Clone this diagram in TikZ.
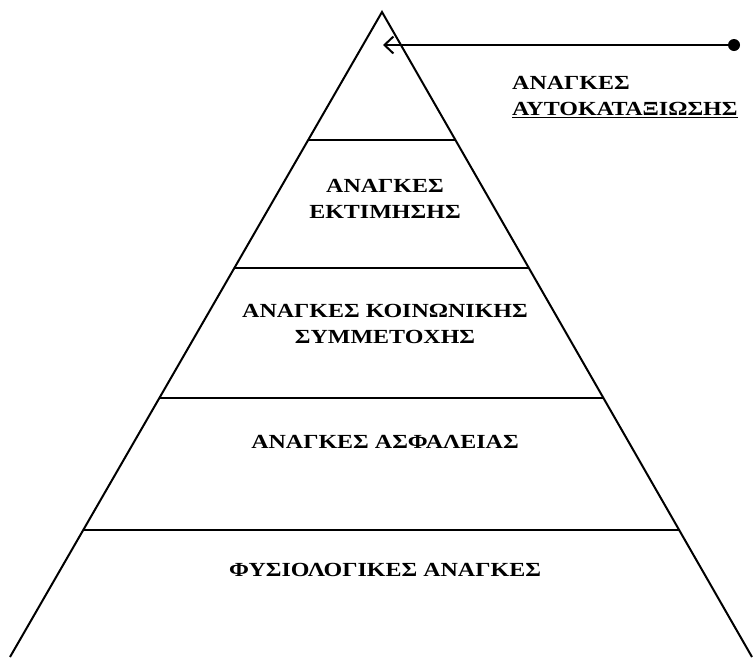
\documentclass[tikz,border=0pt]{standalone}
\usepackage{fontspec}
\setmainfont{Liberation Serif}
\newfontfamily\tierfont{Liberation Serif Bold}[FakeStretch=1.2]
\usetikzlibrary{arrows.meta,calc}
\tikzset{
  tier/.style={font=\tierfont\fontsize{20}{26}\selectfont,align=center,inner sep=0pt},
  sep thick/.style={line width=2.8pt},
  sep thin/.style={line width=1.5pt}
}
\begin{document}
\begin{tikzpicture}[x=1pt,y=-1pt,>={Straight Barb[length=9pt,width=17pt,line width=2pt]}]
          \useasboundingbox (0,0) rectangle (755,657);
          \clip (0,0) rectangle (755,657);
          % pyramid
          \coordinate (apex) at (382,12);
          \coordinate (bl) at (10,657);
          \coordinate (br) at (752,657);
          \draw[line width=2pt,line join=miter] (bl) -- (apex) -- (br);
          % tiers
          \draw[sep thick] ($(apex)!0.1984!(bl)$) coordinate (l1) -- ($(apex)!0.1984!(br)$) coordinate (r1);
          \draw[sep thick] ($(apex)!0.3969!(bl)$) coordinate (l2) -- ($(apex)!0.3969!(br)$) coordinate (r2);
          \draw[sep thin] ($(apex)!0.5984!(bl)$) coordinate (l3) -- ($(apex)!0.5984!(br)$) coordinate (r3);
          \draw[sep thin] ($(apex)!0.8031!(bl)$) coordinate (l4) -- ($(apex)!0.8031!(br)$) coordinate (r4);
          \node[tier] (esteem) at (385,199) {ΑΝΑΓΚΕΣ\\ΕΚΤΙΜΗΣΗΣ};
          \node[tier] (social) at (385,324) {ΑΝΑΓΚΕΣ ΚΟΙΝΩΝΙΚΗΣ\\ΣΥΜΜΕΤΟΧΗΣ};
          \node[tier] (safety) at (385,442) {ΑΝΑΓΚΕΣ ΑΣΦΑΛΕΙΑΣ};
          \node[tier] (physio) at (385,570) {ΦΥΣΙΟΛΟΓΙΚΕΣ ΑΝΑΓΚΕΣ};
          % self-actualisation pointer
          \node[circle,fill,inner sep=0pt,minimum size=12pt] (dot) at (734,45) {};
          \coordinate (tip) at (383,45);
          \draw[line width=2pt,->] (dot) -- (tip);
          \node[tier,align=left,anchor=west] (self) at (512,97) {ΑΝΑΓΚΕΣ\\\underline{ΑΥΤΟΚΑΤΑΞΙΩΣΗΣ}};
        \end{tikzpicture}
\end{document}
